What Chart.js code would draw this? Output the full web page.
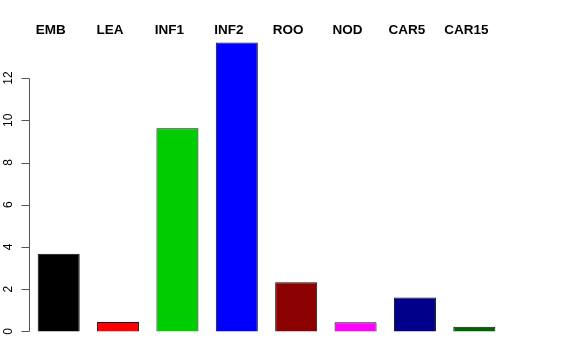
<!DOCTYPE html>
<html>
<head>
<meta charset="utf-8">
<script src="https://cdn.jsdelivr.net/npm/chart.js@4"></script>
<style>
  html, body { margin: 0; padding: 0; background: #fff; }
  #wrap { width: 576px; height: 360px; }
</style>
</head>
<body>
<div id="wrap"><canvas id="barChart" width="576" height="360"></canvas></div>
<script>
const categories = ["EMB", "LEA", "INF1", "INF2", "ROO", "NOD", "CAR5", "CAR15"];
const values = [3.68, 0.44, 9.62, 13.68, 2.33, 0.43, 1.6, 0.22];
const barColors = ["#000000", "#FF0000", "#00CD00", "#0000FF", "#8B0000", "#FF00FF", "#00008B", "#006400"];
const yTicks = [0, 2, 4, 6, 8, 10, 12];

// R-style axis on the left + category names on top
const rStyle = {
  id: 'rStyle',
  afterDraw(chart) {
    const ctx = chart.ctx;
    const y = chart.scales.y;
    const left = chart.chartArea.left;
    ctx.save();
    ctx.strokeStyle = '#555';
    ctx.lineWidth = 1;
    ctx.beginPath();
    ctx.moveTo(left + 0.5, Math.round(y.getPixelForValue(yTicks[0])) + 0.5);
    ctx.lineTo(left + 0.5, Math.round(y.getPixelForValue(yTicks[yTicks.length - 1])) + 0.5);
    yTicks.forEach(t => {
      const py = Math.round(y.getPixelForValue(t)) + 0.5;
      ctx.moveTo(left + 0.5, py);
      ctx.lineTo(left - 7.5, py);
    });
    ctx.stroke();

    ctx.fillStyle = '#000';
    ctx.font = '12px "Liberation Sans", Arial, sans-serif';
    ctx.textAlign = 'center';
    ctx.textBaseline = 'alphabetic';
    yTicks.forEach(t => {
      ctx.save();
      ctx.translate(left - 17, y.getPixelForValue(t));
      ctx.rotate(-Math.PI / 2);
      ctx.fillText(String(t), 0, 0);
      ctx.restore();
    });

    ctx.font = 'bold 13.5px "Liberation Sans", Arial, sans-serif';
    const bars = chart.getDatasetMeta(0).data;
    bars.forEach((bar, i) => {
      ctx.fillText(categories[i], bar.x - 8, 34);
    });
    ctx.restore();
  }
};

new Chart(document.getElementById('barChart'), {
  type: 'bar',
  data: {
    labels: categories,
    datasets: [{
      data: values,
      backgroundColor: barColors,
      borderColor: '#111',
      borderWidth: 1,
      barPercentage: 0.708,
      categoryPercentage: 1.0
    }]
  },
  options: {
    responsive: false,
    animation: false,
    layout: { padding: { left: 29, right: 72, top: 31, bottom: 17 } },
    plugins: {
      legend: { display: false },
      tooltip: { enabled: false }
    },
    scales: {
      x: { display: false, offset: true },
      y: { display: false, min: -0.55, max: 14.23 }
    }
  },
  plugins: [rStyle]
});
</script>
</body>
</html>
